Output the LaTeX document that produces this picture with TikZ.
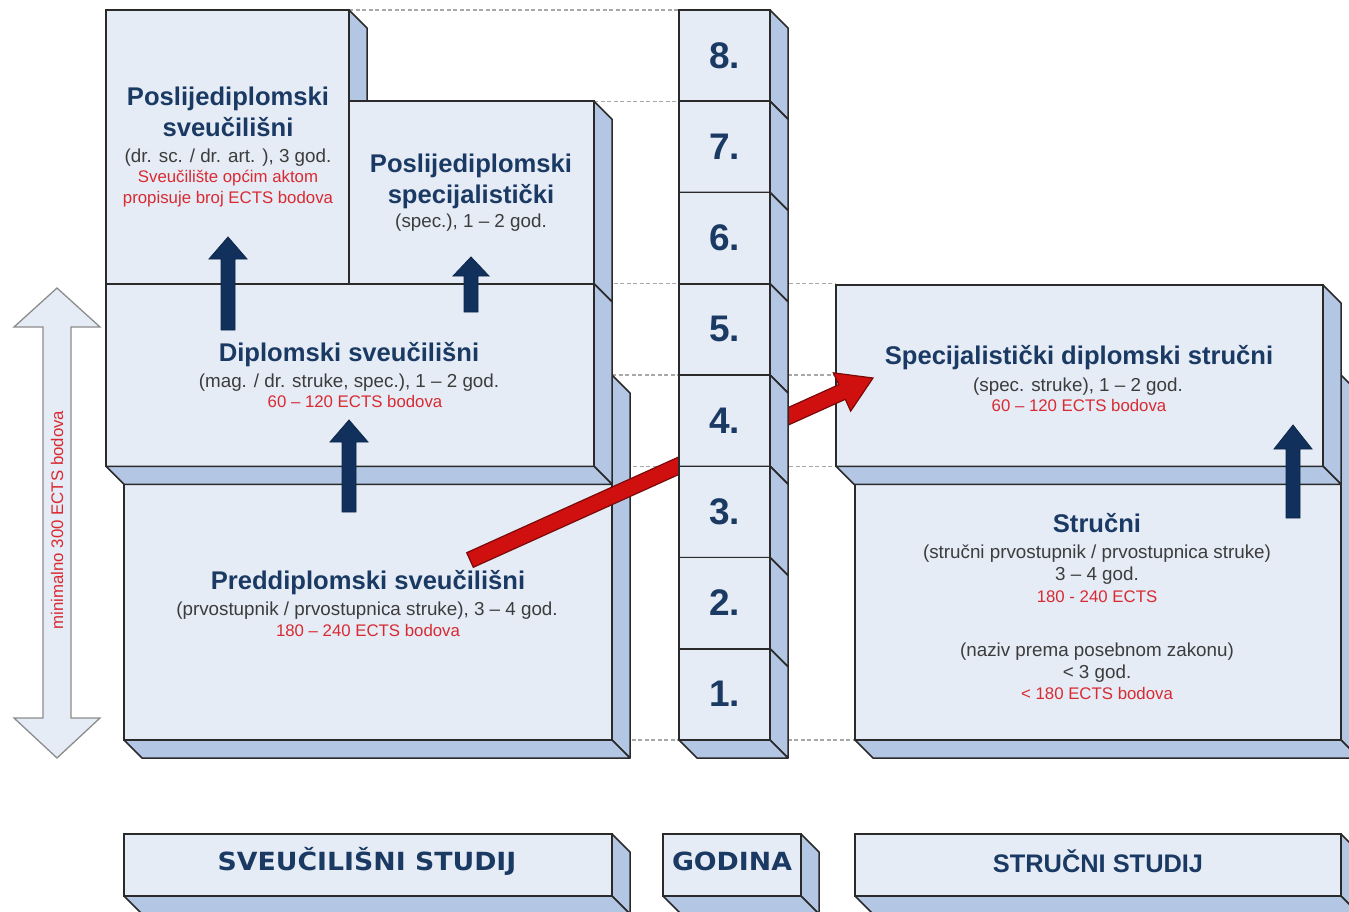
\documentclass[tikz,border=0pt]{standalone}
\usepackage{fontspec}
\setmainfont{Liberation Sans}
\newfontfamily\vfont{DejaVu Sans}[FakeStretch=1.07]
\usetikzlibrary{calc}
\definecolor{navy}{HTML}{1B3A63}
\definecolor{arrnavy}{HTML}{11305B}
\definecolor{redtxt}{HTML}{D92A32}
\definecolor{graytxt}{HTML}{3C3C3C}
\definecolor{frontc}{HTML}{E5ECF6}
\definecolor{sidec}{HTML}{B3C6E4}
\definecolor{edgec}{HTML}{2A2A2A}
\definecolor{guidec}{HTML}{A8A8A8}
\definecolor{redarr}{HTML}{D0100F}
\definecolor{redarredge}{HTML}{7A0A0A}
\definecolor{dblc}{HTML}{8C8C8C}
\pgfdeclarelayer{bg}
\pgfsetlayers{bg,main}
\tikzset{
 front/.style={draw=edgec, fill=frontc, line width=1.5pt, inner sep=0pt, outer sep=0pt},
 sidef/.style={draw=edgec, fill=sidec, line width=1.5pt, line join=round},
 ttl/.style={anchor=base, text=navy, font=\fontsize{25.6}{28}\selectfont\bfseries, inner sep=0pt},
 gry/.style={anchor=base, text=graytxt, font=\fontsize{18.8}{22}\selectfont, inner sep=0pt},
 rd/.style={anchor=base, text=redtxt, font=\fontsize{16.8}{20}\selectfont, inner sep=0pt},
 num/.style={anchor=base, text=navy, font=\fontsize{37}{40}\selectfont\bfseries, inner sep=0pt},
 lbl/.style={anchor=base, text=navy, font=\vfont\fontsize{25}{28}\selectfont\bfseries, inner sep=0pt},
 lbla/.style={anchor=base, text=navy, font=\fontsize{25.4}{28}\selectfont\bfseries, inner sep=0pt},
 guide/.style={draw=guidec, line width=1.2pt, dash pattern=on 4pt off 2.5pt},
 bluearr/.style={fill=arrnavy, draw=arrnavy!80!black, line width=0.8pt},
 redarrow/.style={fill=redarr, draw=redarredge, line width=1.2pt},
 dblarr/.style={fill=frontc, draw=dblc, line width=1.3pt},
}
\newcommand\slab[5]{%
  \node[front, minimum width={(#4)-(#2)}, minimum height={(#5)-(#3)}] (#1) at ({((#2)+(#4))/2},{((#3)+(#5))/2}) {};
  \filldraw[sidef] (#1.north east) -- ++(18,18) -- ($(#1.south east)+(18,18)$) -- (#1.south east) -- cycle;
  \filldraw[sidef] (#1.south west) -- ++(18,18) -- ($(#1.south east)+(18,18)$) -- (#1.south east) -- cycle;
}
\newcommand\fatarrow[6]{%
  \path ($(#3)!#6pt!(#2)$) coordinate (fah);
  \filldraw[#1] ($(#2)!#4pt!90:(#3)$) -- ($(fah)!#4pt!90:(#3)$) -- ($(fah)!#5pt!90:(#3)$) -- (#3)
     -- ($(fah)!#5pt!-90:(#3)$) -- ($(fah)!#4pt!-90:(#3)$) -- ($(#2)!#4pt!-90:(#3)$) -- cycle;
}
\begin{document}
\begin{tikzpicture}[x=1pt, y=-1pt]
\useasboundingbox (0,0) rectangle (1349,912);
% university boxes
\slab{pre}{124}{375}{612}{740}
\slab{p1}{106}{10}{349}{283.75}
\slab{p2}{349}{101.25}{594}{283.75}
\slab{dip}{106}{283.75}{594}{466.25}
% professional boxes
\slab{str}{855}{375}{1341}{740}
\slab{spec}{836}{285}{1323}{466.25}
% texts
\node[ttl] (p1t1) at (228,106) {Poslijediplomski};
\node[ttl] (p1t2) at (228,137) {sveučilišni};
\node[gry] (p1g) at (228,163) {(dr. sc. / dr. art. ), 3 god.};
\node[rd] (p1r1) at (228,183) {Sveučilište općim aktom};
\node[rd] (p1r2) at (228,204) {propisuje broj ECTS bodova};
\node[ttl] (p2t1) at (471,173) {Poslijediplomski};
\node[ttl] (p2t2) at (471,204) {specijalistički};
\node[gry] (p2g) at (471,228) {(spec.), 1 – 2 god.};
\node[ttl] (dipt) at (349,361) {Diplomski sveučilišni};
\node[gry] (dipg) at (349,387) {(mag. / dr. struke, spec.), 1 – 2 god.};
\node[rd] (dipr) at (355,407) {60 – 120 ECTS bodova};
\node[ttl] (pret) at (368,589) {Preddiplomski sveučilišni};
\node[gry] (preg) at (367,615) {(prvostupnik / prvostupnica struke), 3 – 4 god.};
\node[rd] (prer) at (368,636) {180 – 240 ECTS bodova};
\node[ttl] (spect) at (1079,364) {Specijalistički diplomski stručni};
\node[gry] (specg) at (1078,391) {(spec. struke), 1 – 2 god.};
\node[rd] (specr) at (1079,411) {60 – 120 ECTS bodova};
\node[ttl] (strt) at (1097,532) {Stručni};
\node[gry] (strg1) at (1097,558) {(stručni prvostupnik / prvostupnica struke)};
\node[gry] (strg2) at (1097,580) {3 – 4 god.};
\node[rd] (strr1) at (1097,602) {180 - 240 ECTS};
\node[gry] (strg3) at (1097,656) {(naziv prema posebnom zakonu)};
\node[gry] (strg4) at (1097,678) {< 3 god.};
\node[rd] (strr2) at (1097,699) {< 180 ECTS bodova};
% blue arrows
\coordinate (a1s) at (228,330); \coordinate (a1e) at (228,237);
\coordinate (a2s) at (471,312); \coordinate (a2e) at (471,257);
\coordinate (a3s) at (349,512); \coordinate (a3e) at (349,420);
\coordinate (a4s) at (1293,518); \coordinate (a4e) at (1293,425);
\fatarrow{bluearr}{a1s}{a1e}{7}{19}{22}
\fatarrow{bluearr}{a2s}{a2e}{7}{18}{19}
\fatarrow{bluearr}{a3s}{a3e}{7}{19}{22}
\fatarrow{bluearr}{a4s}{a4e}{7}{19}{24}
% red arrow
\coordinate (rs) at (470,560); \coordinate (re) at (873,378);
\fatarrow{redarrow}{rs}{re}{8}{21}{34}
% year column
\foreach \i in {8,...,1}{
  \slab{c\i}{679}{740-91.25*\i}{770}{831.25-91.25*\i}
}
\foreach \i in {8,...,1}{
  \node[num] (n\i) at ($(c\i.center)+(0,12.5)$) {\i.};
}
% bottom labels
\slab{lsv}{124}{834}{612}{896}
\slab{lgod}{663}{834}{801}{896}
\slab{lss}{855}{834}{1341}{896}
\node[lbl] (lsvt) at (367,870) {SVEUČILIŠNI STUDIJ};
\node[lbl] (lgodt) at (732,870) {GODINA};
\node[lbla] (lsst) at (1098,872) {STRUČNI STUDIJ};
% left double arrow
\filldraw[dblarr] (57,288) -- (100,327) -- (71,327) -- (71,718) -- (100,718) -- (57,758)
  -- (14,718) -- (43,718) -- (43,327) -- (14,327) -- cycle;
\node[rd, anchor=center, rotate=90] (mint) at (57,520) {minimalno 300 ECTS bodova};
% guide lines
\begin{pgfonlayer}{bg}
\draw[guide] (p1.north east) -- (p1.north east -| c8.west);
\draw[guide] (p2.north east) -- (p2.north east -| c8.west);
\draw[guide] (dip.north east) -- (dip.north east -| spec.west);
\draw[guide] (pre.north east) -- (pre.north east -| spec.west);
\draw[guide] (dip.south east) -- (dip.south east -| spec.west);
\draw[guide] (pre.south east) -- (pre.south east -| str.west);
\end{pgfonlayer}
\end{tikzpicture}
\end{document}
